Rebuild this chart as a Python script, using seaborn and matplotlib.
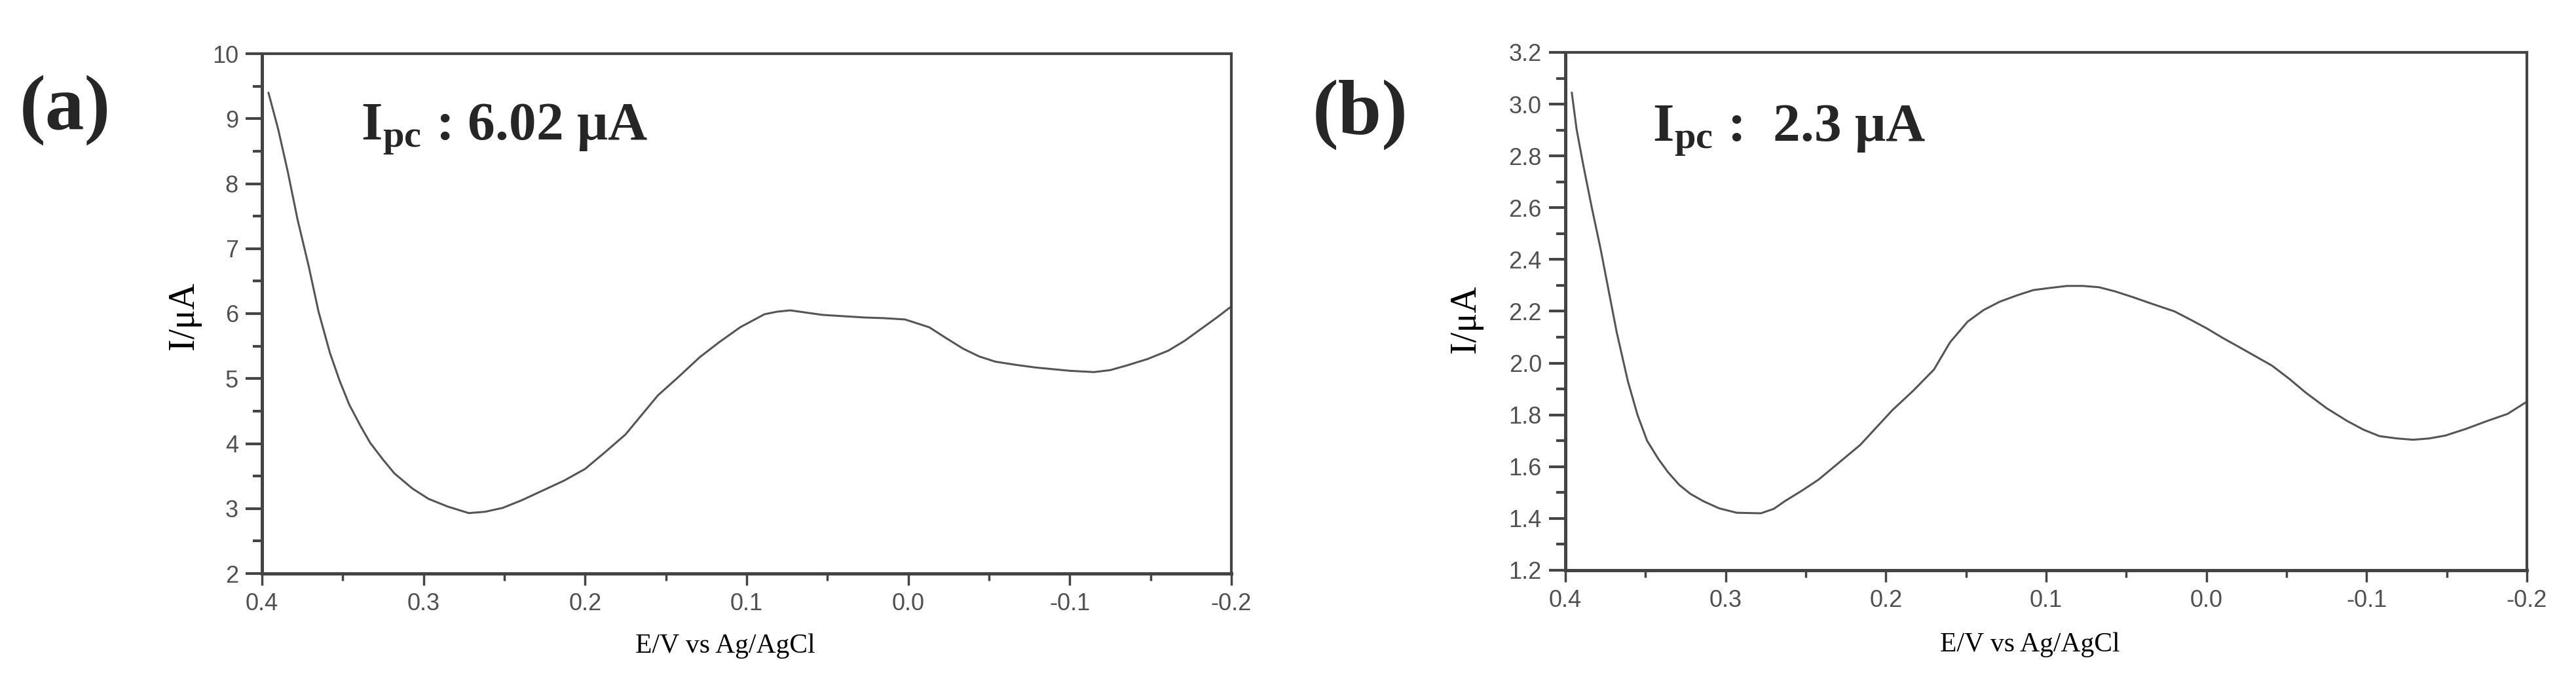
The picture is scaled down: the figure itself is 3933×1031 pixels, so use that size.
import numpy as np
import pandas as pd
import seaborn as sns
import matplotlib
matplotlib.use("Agg")
import matplotlib.pyplot as plt
from matplotlib.ticker import MultipleLocator, FormatStrFormatter

# === Data (E in V, I in uA) ===
potential_a = [0.396, 0.390, 0.384, 0.378, 0.371, 0.365, 0.358, 0.352, 0.346, 0.339,
               0.333, 0.325, 0.318, 0.307, 0.297, 0.285, 0.272, 0.262, 0.251, 0.239,
               0.226, 0.213, 0.200, 0.188, 0.175, 0.165, 0.155, 0.142, 0.129, 0.117,
               0.104, 0.089, 0.081, 0.073, 0.053, 0.027, 0.015, 0.002, -0.013, -0.023,
               -0.034, -0.044, -0.054, -0.067, -0.079, -0.100, -0.115, -0.125, -0.135,
               -0.148, -0.161, -0.171, -0.181, -0.191, -0.200]
current_a = [9.40, 8.84, 8.18, 7.45, 6.72, 6.03, 5.40, 4.97, 4.60, 4.27,
             4.01, 3.75, 3.54, 3.31, 3.15, 3.03, 2.93, 2.95, 3.01, 3.13,
             3.28, 3.43, 3.61, 3.86, 4.14, 4.44, 4.74, 5.03, 5.33, 5.56,
             5.79, 5.99, 6.03, 6.05, 5.98, 5.94, 5.93, 5.91, 5.79, 5.63,
             5.46, 5.34, 5.26, 5.21, 5.17, 5.12, 5.10, 5.13, 5.20,
             5.30, 5.43, 5.58, 5.76, 5.94, 6.11]

potential_b = [0.396, 0.393, 0.389, 0.3835, 0.378, 0.373, 0.368, 0.361, 0.355, 0.349,
               0.342, 0.336, 0.329, 0.322, 0.314, 0.304, 0.293, 0.278, 0.270, 0.263,
               0.252, 0.242, 0.229, 0.216, 0.206, 0.196, 0.183, 0.170, 0.160, 0.149,
               0.139, 0.129, 0.118, 0.108, 0.098, 0.087, 0.077, 0.067, 0.057, 0.046,
               0.033, 0.020, 0.010, 0.000, -0.010, -0.021, -0.031, -0.041, -0.052,
               -0.062, -0.075, -0.088, -0.098, -0.108, -0.119, -0.129, -0.139, -0.149,
               -0.162, -0.175, -0.188, -0.200]
current_b = [3.045, 2.903, 2.77, 2.60, 2.44, 2.28, 2.12, 1.93, 1.80, 1.70,
             1.63, 1.579, 1.53, 1.495, 1.467, 1.439, 1.422, 1.42, 1.437, 1.467,
             1.509, 1.55, 1.617, 1.684, 1.751, 1.818, 1.893, 1.975, 2.08, 2.16,
             2.205, 2.237, 2.262, 2.282, 2.290, 2.298, 2.298, 2.293, 2.277, 2.255,
             2.227, 2.20, 2.168, 2.135, 2.098, 2.06, 2.025, 1.99, 1.938,
             1.886, 1.826, 1.776, 1.743, 1.718, 1.709, 1.704, 1.709, 1.72,
             1.746, 1.776, 1.804, 1.851]

panel_labels = ["(a)", "(b)"]
peak_labels = [r"I$_{\mathrm{pc}}$ : 6.02 μA", r"I$_{\mathrm{pc}}$ :  2.3 μA"]
x_label = "E/V vs Ag/AgCl"
y_label = "I/μA"

# === Style ===
sns.set_style("ticks")
plt.rcParams["font.family"] = ["Liberation Sans", "DejaVu Sans"]
plt.rcParams["mathtext.fontset"] = "custom"
plt.rcParams["mathtext.rm"] = "Liberation Serif:bold"
plt.rcParams["mathtext.it"] = "Liberation Serif:bold"
plt.rcParams["mathtext.bf"] = "Liberation Serif:bold"

W, H, DPI = 3933, 1031, 100
fig = plt.figure(figsize=(W / DPI, H / DPI), dpi=DPI)

spine_col = "#444444"
line_col = "#555555"
tick_col = "#505050"
serif = ["Liberation Serif", "DejaVu Serif"]

# axes boxes in pixels: left, right, top, bottom
boxes = [(400, 1880, 82, 876), (2390, 3858, 80, 871)]
ylims = [(2, 10), (1.2, 3.2)]
ymajor = [1.0, 0.2]
yfmt = ["%d", "%.1f"]
ylab_pos = [(-0.063, 0.496), (-0.086, 0.485)]
xlab_pos = [(0.478, -0.115), (0.483, -0.119)]
panel_pos = [(99, 168), (2077, 175)]
peak_pos = [(551, 213), (2523, 215)]

frames = [pd.DataFrame({"E": potential_a, "I": current_a}),
          pd.DataFrame({"E": potential_b, "I": current_b})]

for i, df in enumerate(frames):
    l, r, t, b = boxes[i]
    ax = fig.add_axes([l / W, 1 - b / H, (r - l) / W, (b - t) / H])
    sns.lineplot(data=df, x="E", y="I", ax=ax, sort=False, color=line_col,
                 linewidth=2.2, estimator=None)

    ax.set_xlim(0.4, -0.2)
    ax.set_ylim(*ylims[i])
    ax.xaxis.set_major_locator(MultipleLocator(0.1))
    ax.xaxis.set_minor_locator(MultipleLocator(0.05))
    ax.xaxis.set_major_formatter(FormatStrFormatter("%.1f"))
    ax.yaxis.set_major_locator(MultipleLocator(ymajor[i]))
    ax.yaxis.set_minor_locator(MultipleLocator(ymajor[i] / 2))
    ax.yaxis.set_major_formatter(FormatStrFormatter(yfmt[i]))

    for side in ["left", "bottom"]:
        ax.spines[side].set_linewidth(3.6)
        ax.spines[side].set_color(spine_col)
    for side in ["top", "right"]:
        ax.spines[side].set_linewidth(3.0)
        ax.spines[side].set_color(spine_col)

    ax.tick_params(axis="y", which="major", length=18, width=3, color=spine_col,
                   labelsize=26, labelcolor=tick_col, pad=8)
    ax.tick_params(axis="y", which="minor", length=10, width=3, color=spine_col)
    ax.tick_params(axis="x", which="major", length=13, width=2.5, color=spine_col,
                   labelsize=26, labelcolor=tick_col, pad=8)
    ax.tick_params(axis="x", which="minor", length=8, width=2.5, color=spine_col)

    ax.set_xlabel(x_label, fontsize=30, family=serif, color="black")
    ax.xaxis.set_label_coords(*xlab_pos[i])
    ax.set_ylabel(y_label, fontsize=40, family=serif, color="black")
    ax.yaxis.set_label_coords(*ylab_pos[i])

    px, py = panel_pos[i]
    fig.text(px / W, 1 - py / H, panel_labels[i], fontsize=86, family=serif,
             fontweight="bold", ha="center", va="center")
    qx, qy = peak_pos[i]
    fig.text(qx / W, 1 - qy / H, peak_labels[i], fontsize=60, family=serif,
             fontweight="bold", ha="left", va="baseline")

fig.savefig("out.png", dpi=DPI, facecolor="white")
